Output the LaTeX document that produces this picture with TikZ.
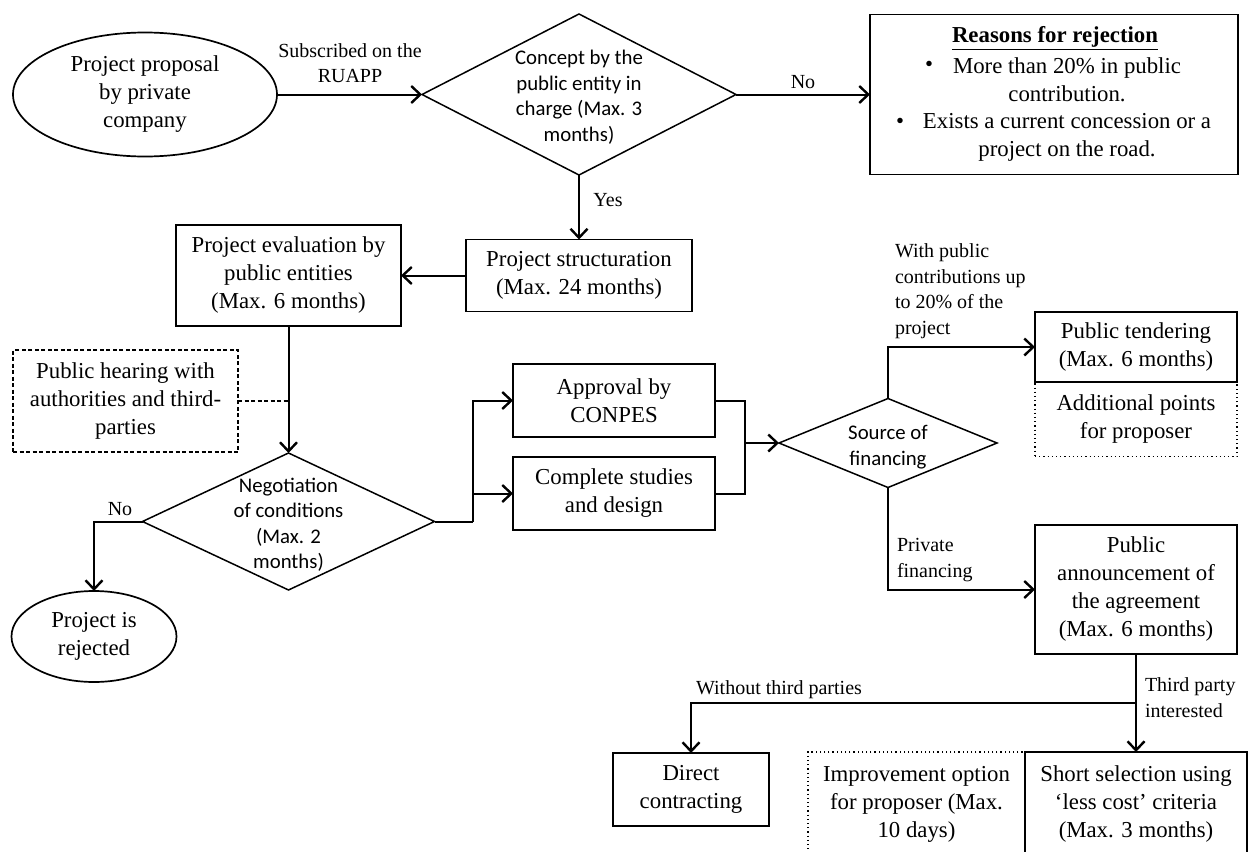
\documentclass[tikz,border=0pt]{standalone}
\usepackage{fontspec}
\setmainfont{Liberation Serif}
\newfontfamily\diafont{Carlito}
\usetikzlibrary{shapes.geometric,arrows.meta}

\begin{document}
\begin{tikzpicture}[x=1pt,y=-1pt,
  every node/.style={inner sep=0pt, outer sep=0pt},
  body/.style={font=\fontsize{22.8}{28}\selectfont, align=center},
  box/.style={draw, rectangle, line width=1.9pt, body},
  hearbox/.style={draw, rectangle, line width=1.4pt, dash pattern=on 4pt off 2.5pt, body},
  dotbox/.style={draw, rectangle, line width=1.6pt, dash pattern=on 1.2pt off 3pt, body},
  oval/.style={draw, ellipse, line width=1.7pt, body},
  dia/.style={draw, diamond, line width=1.5pt},
  dtext/.style={font=\diafont\fontsize{20.8}{25.5}\selectfont, align=center},
  lbl/.style={font=\fontsize{20}{25}\selectfont, align=center},
  lbll/.style={font=\fontsize{20}{25.5}\selectfont, align=left, anchor=west},
  conn/.style={line width=2pt},
  arr/.style={conn, -{Straight Barb[length=9pt,width=17pt,line width=2.4pt]}},
]
\fill[white] (0,0) rectangle (1249,851);
\useasboundingbox (0,0) rectangle (1249,851);

% ---- top row ----
\node[oval, minimum width=264, minimum height=124] (prop) at (145,94.5)
  {Project proposal\\by private\\company};
\node[dia, minimum width=314, minimum height=161] (concept) at (579,94.5) {};
\node[dtext] (conceptt) at (579,97) {Concept by the\\public entity in\\charge (Max. 3\\months)};
\node[box, minimum width=368, minimum height=160] (reasons) at (1054,94.5) {};
\node[body] (rtitle) at (1055,38) {\underline{\textbf{Reasons for rejection}}};
\node[body] (bul1) at (929,66) {•};
\node[body] (rea1) at (1067,80) {More than 20\% in public\\contribution.};
\node[body] (bul2) at (900,123) {•};
\node[body] (rea2) at (1067,137) {Exists a current concession or a\\project on the road.};

\draw[arr] (prop.east) -- (concept.west);
\node[lbl] (lsub) at (350,63.5) {Subscribed on the\\RUAPP};
\draw[arr] (concept.east) -- (reasons.west);
\node[lbl] (lno1) at (803,82) {No};

% ---- structuring and evaluation ----
\node[box, minimum width=226, minimum height=72] (struct) at (579,275.5) {Project structuration\\(Max. 24 months)};
\node[box, minimum width=225, minimum height=101] (eval) at (288.5,275.5) {Project evaluation by\\public entities\\(Max. 6 months)};
\node[hearbox, minimum width=225, minimum height=102] (hear) at (125.5,401) {Public hearing with\\authorities and third-\\parties};

\draw[arr] (concept.south) -- (struct.north);
\node[lbl] (lyes) at (608,200) {Yes};
\draw[arr] (struct.west) -- (eval.east);

% ---- negotiation ----
\node[dia, minimum width=292, minimum height=137] (neg) at (288.5,521.5) {};
\node[dtext] (negt) at (288.5,524.5) {Negotiation\\of conditions\\(Max. 2\\months)};
\node[oval, minimum width=165, minimum height=91] (rej) at (94,636.5) {Project is\\rejected};

\draw[arr] (eval.south) -- (neg.north);
\draw[line width=1.4pt, dash pattern=on 4pt off 2.5pt] (hear.east) -- (hear.east -| eval.south);
\draw[arr] (neg.west) -| (rej.north);
\node[lbl] (lno2) at (120,509) {No};

% ---- approval and studies ----
\node[box, minimum width=202, minimum height=73] (appr) at (614,400.5) {Approval by\\CONPES};
\node[box, minimum width=202, minimum height=73] (comp) at (614,493.5) {Complete studies\\and design};
\coordinate (fork) at (473,521.5);
\coordinate (join) at (745,443);
\draw[conn] (neg.east) -- (fork);
\draw[arr] (fork) |- (appr.west);
\draw[arr] (fork) |- (comp.west);
\draw[conn] (appr.east) -| (join);
\draw[conn] (comp.east) -| (join);

% ---- financing ----
\node[dia, minimum width=218, minimum height=89] (src) at (888,443) {};
\node[dtext] (srct) at (888,447) {Source of\\financing};
\draw[arr] (join) -- (src.west);

\node[box, minimum width=202, minimum height=70] (tend) at (1136,347) {Public tendering\\(Max. 6 months)};
\node[dotbox, minimum width=202, minimum height=74] (addp) at (1136,419.5) {Additional points\\for proposer};
\draw[box] (tend.south west) -- (tend.south east);
\draw[arr] (src.north) |- (tend.west);
\node[lbll] (lpub) at (895,291) {With public\\contributions up\\to 20\% of the\\project};

\node[box, minimum width=202, minimum height=129] (ann) at (1136,589.5)
  {Public\\announcement of\\the agreement\\(Max. 6 months)};
\draw[arr] (src.south) |- (ann.west);
\node[lbll] (lpriv) at (897,560) {Private\\financing};

% ---- contracting ----
\node[box, minimum width=156, minimum height=73] (direct) at (691,789.5) {Direct\\contracting};
\node[dotbox, minimum width=217, minimum height=104, anchor=north] (impr) at (916.5,752)
  {Improvement option\\for proposer (Max.\\10 days)};
\node[box, minimum width=222, minimum height=104, anchor=north] (short) at (1136,752)
  {Short selection using\\‘less cost’ criteria\\(Max. 3 months)};

\coordinate (split) at (1136,703);
\draw[conn] (ann.south) -- (split);
\draw[arr] (split) -- (short.north);
\draw[arr] (split) -| (direct.north);
\node[lbl] (lwo) at (779,690) {Without third parties};
\node[lbll] (lthird) at (1145,697.5) {Third party\\interested};
\end{tikzpicture}
\end{document}
